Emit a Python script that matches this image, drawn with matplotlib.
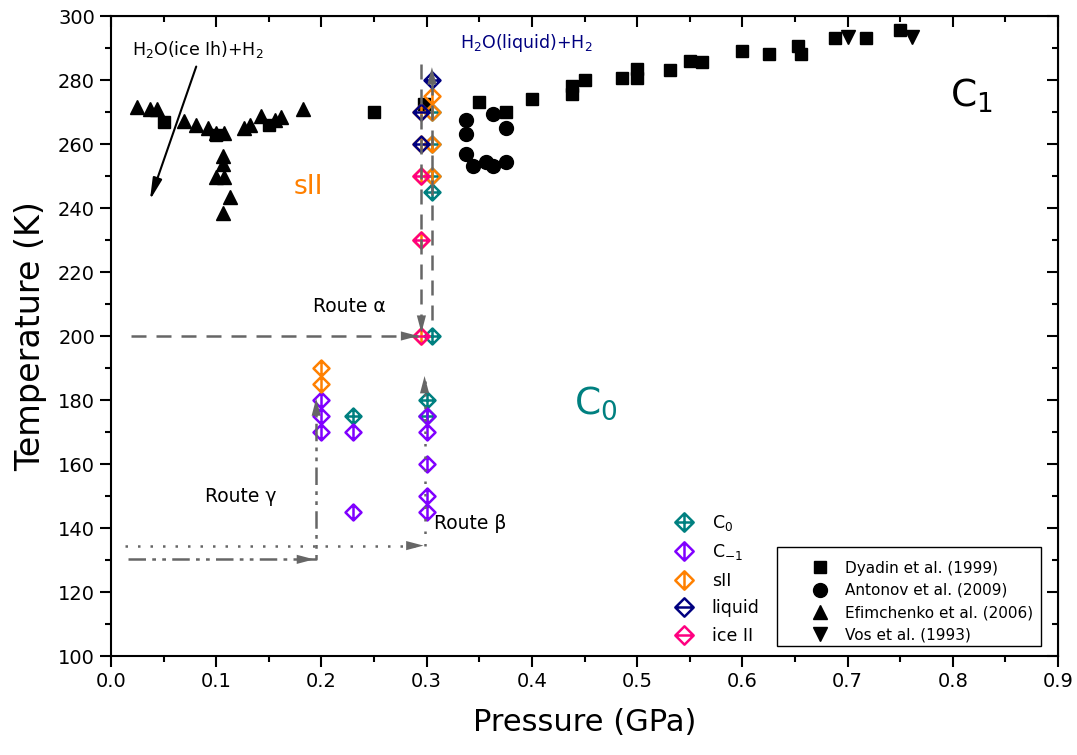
import matplotlib
matplotlib.use("Agg")
import matplotlib.pyplot as plt
from matplotlib.path import Path
from matplotlib.patches import Rectangle
import numpy as np

plt.rcParams['font.family'] = ['DejaVu Sans']
plt.rcParams['mathtext.fontset'] = 'dejavusans'

# literature data (P in GPa, T in K)
dyadin_p = [0.050, 0.100, 0.150, 0.250, 0.297, 0.350, 0.375, 0.400, 0.438, 0.438, 0.450,
            0.486, 0.500, 0.500, 0.531, 0.550, 0.562, 0.600, 0.625, 0.653, 0.656,
            0.688, 0.718, 0.750]
dyadin_t = [267.0, 262.8, 266.0, 270.0, 272.5, 273.0, 270.0, 274.0, 278.0, 275.5, 280.0,
            280.5, 283.5, 280.5, 283.0, 286.0, 285.5, 289.0, 288.0, 290.5, 288.0,
            293.0, 293.0, 295.5]
antonov_p = [0.337, 0.337, 0.363, 0.375, 0.337, 0.344, 0.356, 0.363, 0.375]
antonov_t = [267.5, 263.0, 269.3, 265.0, 256.8, 253.2, 254.5, 253.2, 254.3]
efim_p = [0.025, 0.037, 0.044, 0.069, 0.081, 0.092, 0.100, 0.107, 0.126, 0.132, 0.143,
          0.156, 0.162, 0.182, 0.106, 0.106, 0.100, 0.107, 0.113, 0.106]
efim_t = [271.5, 271.0, 271.0, 267.3, 266.0, 265.0, 263.5, 263.5, 265.0, 266.0, 268.8,
          267.5, 268.5, 271.0, 256.3, 253.7, 249.8, 249.8, 243.5, 238.5]
vos_p = [0.700, 0.761]
vos_t = [293.5, 293.5]

# simulation runs
c0_p = [0.305, 0.305, 0.305, 0.305, 0.305, 0.300, 0.300, 0.230]
c0_t = [270, 260, 250, 245, 200, 180, 175, 175]
cm1_p = [0.200, 0.200, 0.200, 0.230, 0.230, 0.300, 0.300, 0.300, 0.300, 0.300]
cm1_t = [180, 175, 170, 170, 145, 175, 170, 160, 150, 145]
sii_p = [0.200, 0.200, 0.305, 0.305, 0.305, 0.305, 0.295, 0.295, 0.295, 0.295, 0.295]
sii_t = [190, 185, 275, 270, 260, 250, 270, 260, 250, 230, 200]
liq_p = [0.305, 0.295, 0.295]
liq_t = [280, 270, 260]
ice2_p = [0.295, 0.295, 0.295]
ice2_t = [250, 230, 200]


def diamond(vert, horiz):
    verts = [(0, 1), (1, 0), (0, -1), (-1, 0), (0, 1)]
    codes = [Path.MOVETO, Path.LINETO, Path.LINETO, Path.LINETO, Path.CLOSEPOLY]
    if vert:
        verts += [(0, 1), (0, -1)]
        codes += [Path.MOVETO, Path.LINETO]
    if horiz:
        verts += [(-1, 0), (1, 0)]
        codes += [Path.MOVETO, Path.LINETO]
    return Path(verts, codes)


fig, ax = plt.subplots(figsize=(10.77, 7.55), dpi=100)
fig.subplots_adjust(left=111/1077, right=1058/1077, bottom=1-656/755, top=1-16/755)

ms_black = dict(color='black', ls='none', zorder=3)
h1, = ax.plot(dyadin_p, dyadin_t, marker='s', ms=9, label='Dyadin et al. (1999)', **ms_black)
h2, = ax.plot(antonov_p, antonov_t, marker='o', ms=10, label='Antonov et al. (2009)', **ms_black)
h3, = ax.plot(efim_p, efim_t, marker='^', ms=10.5, label='Efimchenko et al. (2006)', **ms_black)
h4, = ax.plot(vos_p, vos_t, marker='v', ms=10.5, label='Vos et al. (1993)', **ms_black)

sim = [
    (c0_p, c0_t, '#008080', diamond(True, True), 'C$_0$'),
    (cm1_p, cm1_t, '#8000FF', diamond(True, False), 'C$_{-1}$'),
    (sii_p, sii_t, '#FF8000', diamond(True, False), 'sII'),
    (liq_p, liq_t, '#000080', diamond(False, True), 'liquid'),
    (ice2_p, ice2_t, '#FF0080', diamond(False, True), 'ice II'),
]
sim_handles = []
for p, t, c, m, lab in sim:
    h, = ax.plot(p, t, ls='none', marker=m, ms=11.5, mfc='none', mec=c, mew=1.8,
                 label=lab, zorder=4)
    sim_handles.append(h)

# routes
gray = '#666666'
head = dict(arrowstyle='-|>,head_length=1.25,head_width=0.33', color=gray, lw=0,
            shrinkA=0, shrinkB=0, mutation_scale=10)


def arrow_tip(x0, y0, x1, y1):
    ax.annotate('', xy=(x1, y1), xytext=(x0, y0), arrowprops=head, zorder=6)


dash = (0, (6, 4))
ax.plot([0.019, 0.292], [200, 200], color=gray, lw=1.8, ls=dash, zorder=5)
arrow_tip(0.27, 200, 0.292, 200)
ax.plot([0.295, 0.295], [285, 201], color=gray, lw=1.8, ls=dash, zorder=5)
arrow_tip(0.295, 207, 0.295, 201)
ax.plot([0.305, 0.305], [205, 283], color=gray, lw=1.8, ls=dash, zorder=5)
arrow_tip(0.305, 277, 0.305, 284)

dot = (0, (1, 4))
ax.plot([0.013, 0.298, 0.298], [134.5, 134.5, 187], color=gray, lw=1.8, ls=dot, zorder=5)
arrow_tip(0.28, 134.5, 0.297, 134.5)
arrow_tip(0.298, 181, 0.298, 187.5)

dashdotdot = (0, (7, 2.5, 1.5, 2.5, 1.5, 2.5))
ax.plot([0.016, 0.195, 0.195], [130.2, 130.2, 180], color=gray, lw=1.8, ls=dashdotdot, zorder=5)
arrow_tip(0.175, 130.2, 0.193, 130.2)
arrow_tip(0.195, 174, 0.195, 180.5)

ax.annotate('', xy=(0.037, 242.5), xytext=(0.081, 284.2),
            arrowprops=dict(arrowstyle='-|>,head_length=1.3,head_width=0.28', color='black',
                            lw=1.5, shrinkA=0, shrinkB=0, mutation_scale=10))

# region labels
ax.text(0.020, 289.4, 'H$_2$O(ice Ih)+H$_2$', fontsize=12.5, va='center', ha='left')
ax.text(0.395, 291.5, 'H$_2$O(liquid)+H$_2$', fontsize=12.5, va='center', ha='center',
        color='#000080')
ax.text(0.797, 275, 'C$_1$', fontsize=27, va='center', ha='left')
ax.text(0.440, 179, 'C$_0$', fontsize=27, va='center', ha='left', color='#008080')
ax.text(0.188, 246.6, 'sII', fontsize=19, va='center', ha='center', color='#FF8000')
ax.text(0.192, 209.2, 'Route α', fontsize=13.5, va='center', ha='left')
ax.text(0.089, 149.8, 'Route γ', fontsize=13.5, va='center', ha='left')
ax.text(0.307, 141.4, 'Route β', fontsize=13.5, va='center', ha='left')

ax.set_xlim(0.0, 0.9)
ax.set_ylim(100, 300)
ax.set_xticks(np.arange(0, 0.91, 0.1))
ax.set_xticks(np.arange(0.05, 0.9, 0.1), minor=True)
ax.set_yticks(np.arange(100, 301, 20))
ax.set_yticks(np.arange(110, 300, 20), minor=True)
ax.xaxis.set_major_formatter(matplotlib.ticker.FormatStrFormatter('%.1f'))
ax.tick_params(which='both', direction='out', width=1.5, labelsize=14)
ax.tick_params(which='major', length=8)
ax.tick_params(which='minor', length=4.3)
for s in ax.spines.values():
    s.set_linewidth(1.5)

top = ax.secondary_xaxis('top')
top.set_xticks(np.arange(0, 0.91, 0.1))
top.set_xticks(np.arange(0.05, 0.9, 0.1), minor=True)
top.tick_params(which='both', direction='in', width=1.5, labeltop=False)
top.tick_params(which='major', length=8)
top.tick_params(which='minor', length=4.3)
right = ax.secondary_yaxis('right')
right.set_yticks(np.arange(100, 301, 20))
right.set_yticks(np.arange(110, 300, 20), minor=True)
right.tick_params(which='both', direction='in', width=1.5, labelright=False)
right.tick_params(which='major', length=8)
right.tick_params(which='minor', length=4.3)

ax.set_xlabel('Pressure (GPa)', fontsize=22, labelpad=12)
ax.set_ylabel('Temperature (K)', fontsize=24, labelpad=8)

leg1 = ax.legend(handles=sim_handles, loc='upper left', bbox_to_anchor=(0.583, 0.243),
                 frameon=False, fontsize=12.5, handlelength=1.0, handletextpad=1.1,
                 labelspacing=0.55, borderpad=0.2, markerscale=1.15)
ax.add_artist(leg1)

# boxed legend for the literature data
ax.add_patch(Rectangle((0.7033, 0.0156), 0.2787, 0.1547, transform=ax.transAxes,
                       facecolor='white', edgecolor='black', lw=1.0, zorder=7))
leg2 = ax.legend(handles=[h1, h2, h3, h4], loc='upper left', bbox_to_anchor=(0.733, 0.149),
                 fontsize=11, frameon=False, handletextpad=0.6, labelspacing=0.48,
                 borderpad=0, borderaxespad=0, markerscale=1.0, handlelength=2.0)
leg2.set_zorder(8)

fig.savefig('out.png', dpi=100)
